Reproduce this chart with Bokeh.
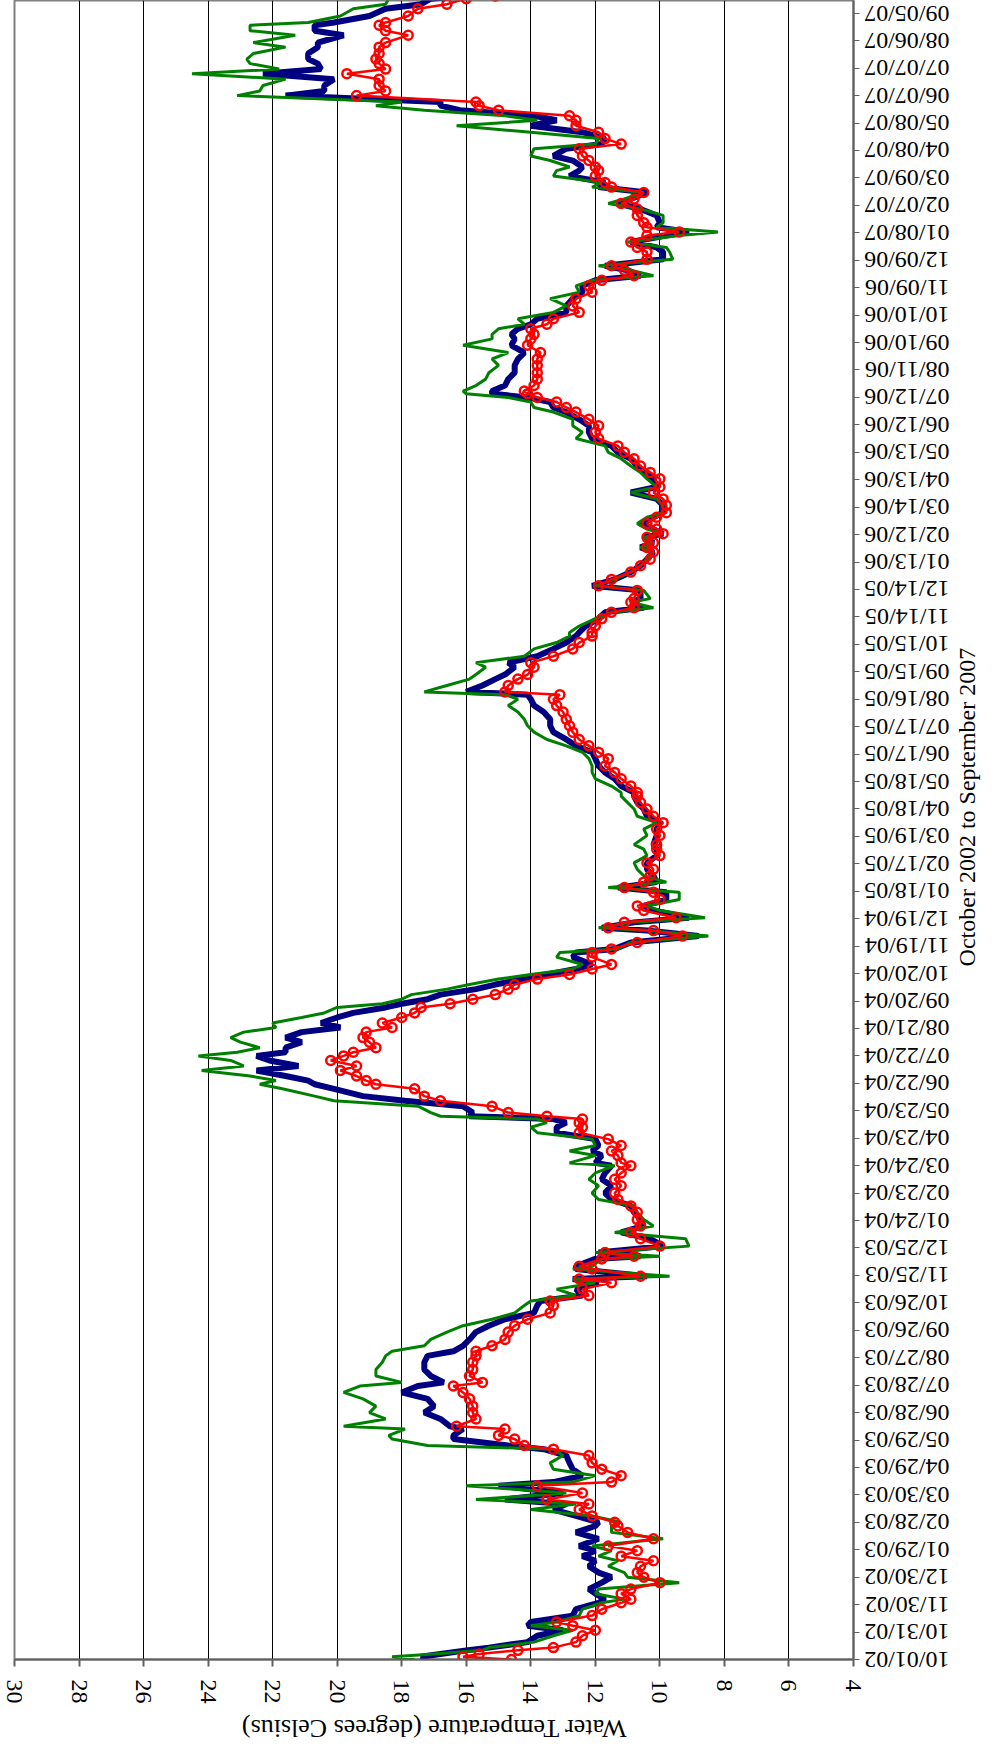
import datetime as dt
from math import pi
from bokeh.plotting import figure
from bokeh.layouts import column, row
from bokeh.models import Range1d, FixedTicker, ColumnDataSource
from bokeh.core.properties import value
from bokeh.embed import file_html
from bokeh.resources import INLINE

# ---------------- data ----------------
start_date = "10/01/02"
date_tick_labels = [
    "10/01/02", "10/31/02", "11/30/02", "12/30/02", "01/29/03", "02/28/03", "03/30/03", "04/29/03",
    "05/29/03", "06/28/03", "07/28/03", "08/27/03", "09/26/03", "10/26/03", "11/25/03", "12/25/03",
    "01/24/04", "02/23/04", "03/24/04", "04/23/04", "05/23/04", "06/22/04", "07/22/04", "08/21/04",
    "09/20/04", "10/20/04", "11/19/04", "12/19/04", "01/18/05", "02/17/05", "03/19/05", "04/18/05",
    "05/18/05", "06/17/05", "07/17/05", "08/16/05", "09/15/05", "10/15/05", "11/14/05", "12/14/05",
    "01/13/06", "02/12/06", "03/14/06", "04/13/06", "05/13/06", "06/12/06", "07/12/06", "08/11/06",
    "09/10/06", "10/10/06", "11/09/06", "12/09/06", "01/08/07", "02/07/07", "03/09/07", "04/08/07",
    "05/08/07", "06/07/07", "07/07/07", "08/06/07", "09/05/07",
]
temp_ticks = [4, 6, 8, 10, 12, 14, 16, 18, 20, 22, 24, 26, 28, 30]
x_title = "Water Temperature (degrees Celsius)"
y_title = "October 2002 to September 2007"

# days since 10/01/02
days = [
    0, 3, 6, 10, 13, 19, 26, 32, 37, 41, 48, 55, 62, 66, 72, 77, 84,
    90, 95, 102, 108, 113, 119, 124, 132, 139, 146, 150, 157, 164, 170, 175, 182, 190, 194, 201, 208, 215, 223, 230, 234,
    241, 245, 252, 255, 263, 270, 277, 285, 292, 299, 303, 310, 317, 325, 332, 337, 343, 350, 358, 365, 372, 379, 387, 392, 398, 405, 412,
    416, 419, 427, 430, 438, 441, 445, 452, 460, 467, 474, 481, 489, 496, 503, 510, 518, 525, 532, 540, 543, 551, 556, 562, 569, 576, 582, 587, 591,
    594, 598, 605, 611, 616, 624, 629, 633, 638, 644, 649, 655, 660, 664, 669, 675, 680, 686, 691, 696, 702, 707, 713, 717, 722, 727, 733, 738, 744, 749, 755, 760, 768, 773,
    777, 784, 791, 797, 800, 806, 811, 819, 824, 831, 839, 844, 850, 857, 864, 871, 879, 886, 891, 901, 908, 915, 922, 930, 937, 944, 948,
    955, 963, 970, 977, 985, 992, 999, 1006, 1014, 1021, 1028, 1036, 1043, 1050, 1055, 1058, 1065, 1072, 1077, 1085, 1090, 1097, 1105, 1112, 1119, 1123,
    1130, 1138, 1145, 1150, 1156, 1160, 1169, 1174, 1181, 1189, 1196, 1203, 1211, 1216, 1221, 1227, 1231, 1236, 1242, 1249, 1254, 1262, 1269, 1276, 1282, 1291, 1298,
    1305, 1313, 1320, 1327, 1335, 1342, 1349, 1356, 1364, 1369, 1375, 1380, 1384, 1387, 1393, 1400, 1407, 1415, 1422, 1429, 1437, 1444, 1449, 1455, 1460, 1466, 1473,
    1480, 1488, 1495, 1502, 1508, 1513, 1519, 1524, 1531, 1539, 1544, 1550, 1557, 1561, 1566, 1571, 1579, 1586, 1592, 1597, 1604, 1610, 1615, 1622, 1628, 1632, 1639, 1644, 1652,
    1657, 1663, 1670, 1677, 1683, 1688, 1694, 1699, 1703, 1710, 1715, 1721, 1728, 1734, 1739, 1745, 1750, 1756, 1763, 1768, 1776, 1781, 1787, 1790, 1797, 1805, 1810, 1816, 1819,
]

green_temp = [
    17.6, 18.3, 17.0, 15.5, 15.3, 13.9, 13.3, 12.7, 14.0, 13.2, 12.5, 12.4, 11.8, 11.1, 12.0, 11.9, 9.4,
    11.0, 11.1, 11.6, 11.3, 11.9, 11.5, 12.1, 9.9, 11.5, 11.5, 11.2, 12.1, 14.0, 12.6, 15.7, 12.9, 16.0, 12.7, 12.0, 13.3, 13.4, 13.0, 13.3, 17.2,
    18.3, 18.4, 17.9, 19.8, 18.5, 19.0, 18.8, 19.2, 19.8, 19.3, 18.0, 18.8, 18.8, 18.6, 18.5, 18.3, 17.3, 17.1, 16.6, 16.1, 15.2, 14.5, 14.2, 14.0, 12.6, 13.2, 12.0,
    12.7, 9.7, 12.7, 12.1, 11.8, 10.0, 12.0, 9.1, 9.2, 11.4, 10.2, 10.5, 10.7, 10.8, 11.9, 12.1, 11.9, 12.2, 12.0, 11.4, 12.8, 12.0, 12.8, 12.0, 12.1, 13.8, 14.0, 13.5, 13.8,
    16.8, 17.1, 17.5, 20.1, 20.7, 21.7, 22.4, 21.9, 22.7, 24.2, 22.9, 23.3, 24.3, 23.1, 22.4, 23.0, 23.3, 22.9, 21.9, 22.0, 21.1, 20.4, 20.0, 18.6, 18.0, 17.7, 16.6, 15.9, 15.0, 14.0, 12.7, 12.4, 13.2, 13.1,
    11.3, 10.9, 8.5, 10.4, 11.9, 10.9, 8.6, 10.0, 10.4, 9.4, 9.4, 11.6, 9.8, 10.5, 10.7, 10.8, 10.4, 10.5, 10.8, 10.4, 10.5, 10.1, 10.7, 10.8, 11.0, 11.2, 11.2,
    11.5, 12.0, 12.1, 12.1, 12.2, 12.4, 12.9, 13.5, 13.9, 14.1, 14.2, 14.4, 14.7, 14.4, 14.8, 17.3, 16.6, 15.9, 15.7, 15.4, 15.7, 14.2, 13.9, 13.2, 12.8, 12.8,
    12.5, 12.0, 11.5, 10.2, 10.9, 10.3, 10.5, 12.0, 11.4, 10.9, 10.6, 10.4, 10.2, 10.6, 10.2, 10.5, 9.9, 10.4, 10.7, 10.4, 9.9, 9.9, 10.1, 10.9, 10.1, 10.4, 10.6,
    10.9, 11.2, 11.6, 11.7, 12.6, 12.4, 12.7, 12.7, 13.3, 13.9, 14.0, 14.7, 16.0, 16.1, 15.7, 15.4, 15.3, 15.0, 15.2, 14.7, 16.1, 15.2, 15.2, 15.0, 14.2, 14.4, 13.3,
    12.9, 13.4, 12.5, 12.6, 12.1, 10.2, 10.9, 11.9, 9.6, 9.7, 9.8, 11.0, 9.4, 8.2, 10.1, 9.9, 9.9, 10.6, 11.6, 11.1, 10.5, 12.1, 11.8, 13.3, 13.2, 12.8, 13.4, 14.0, 13.9,
    12.0, 11.9, 14.0, 16.3, 13.8, 14.8, 17.3, 18.8, 18.0, 23.1, 22.4, 22.3, 21.6, 24.5, 21.8, 22.7, 22.8, 22.6, 21.6, 22.6, 21.3, 22.7, 22.7, 20.9, 19.9, 19.5, 18.5, 18.4, 16.6,
]

navy_temp = [
    17.2, 17.4, 16.8, 16.0, 15.3, 14.1, 13.8, 13.0, 14.1, 14.0, 12.7, 12.6, 11.9, 11.7, 12.0, 12.2, 11.8,
    11.5, 11.9, 12.2, 12.0, 12.4, 12.0, 12.5, 11.9, 12.6, 12.0, 11.9, 12.6, 13.3, 12.9, 14.8, 13.0, 15.0, 13.3, 12.4, 12.7, 12.8, 12.9, 13.6, 14.7,
    16.4, 16.4, 16.1, 16.5, 16.8, 17.3, 17.0, 17.2, 18.0, 17.5, 16.7, 17.1, 17.3, 17.3, 17.2, 16.4, 16.1, 15.9, 15.7, 15.3, 14.8, 13.9, 13.8, 13.7, 12.4, 12.6, 11.9,
    12.7, 10.4, 12.6, 12.6, 12.0, 10.6, 11.9, 9.9, 10.3, 11.2, 10.5, 10.6, 10.8, 10.9, 11.5, 11.7, 11.5, 11.8, 11.7, 11.5, 12.0, 11.8, 12.1, 11.9, 12.0, 13.2, 13.2, 12.9, 13.3,
    15.9, 15.8, 16.1, 17.9, 19.2, 20.1, 20.7, 20.9, 21.6, 22.5, 21.2, 22.1, 22.5, 21.6, 21.6, 21.1, 21.6, 21.1, 19.9, 20.5, 20.0, 19.5, 18.5, 18.0, 17.2, 16.8, 15.7, 15.1, 14.2, 13.5, 12.6, 12.1, 12.7, 12.6,
    11.4, 10.9, 8.8, 10.4, 11.8, 10.8, 9.1, 10.2, 10.5, 9.8, 9.8, 11.3, 10.1, 10.2, 10.4, 10.4, 10.1, 10.1, 10.2, 10.1, 10.1, 10.0, 10.4, 10.5, 10.7, 10.8, 10.8,
    11.2, 11.4, 11.7, 11.9, 12.0, 12.1, 12.6, 12.9, 13.3, 13.4, 13.4, 13.6, 13.9, 14.0, 14.1, 16.0, 15.5, 15.1, 14.8, 14.5, 14.7, 13.8, 13.3, 12.9, 12.6, 12.5,
    12.3, 11.9, 11.7, 10.5, 10.9, 10.6, 10.6, 12.1, 11.4, 10.9, 10.6, 10.4, 10.2, 10.6, 10.2, 10.5, 9.9, 10.2, 10.6, 10.2, 9.9, 9.9, 10.1, 10.9, 10.1, 10.2, 10.5,
    10.7, 10.9, 11.3, 11.5, 12.1, 12.2, 12.2, 12.5, 12.9, 13.3, 13.4, 14.1, 15.2, 15.2, 14.8, 14.7, 14.5, 14.5, 14.4, 14.2, 14.6, 14.5, 14.6, 14.4, 14.0, 13.8, 12.9,
    12.9, 12.7, 12.4, 12.4, 12.0, 10.6, 11.0, 11.7, 9.9, 9.9, 10.1, 10.9, 9.8, 9.1, 10.1, 10.0, 10.1, 10.6, 11.3, 10.9, 10.4, 11.9, 11.7, 12.8, 12.5, 12.4, 12.7, 13.3, 12.9,
    11.8, 11.7, 12.4, 14.0, 13.2, 13.9, 16.2, 16.8, 16.8, 21.6, 20.4, 20.4, 20.1, 22.3, 20.5, 20.6, 20.9, 20.9, 20.6, 20.6, 19.8, 20.7, 20.7, 20.1, 19.0, 18.5, 17.4, 17.1, 16.1,
]

red_temp = [
    14.6, 16.1, 15.6, 14.4, 13.3, 12.6, 12.4, 12.0, 12.7, 13.2, 12.1, 11.8, 11.2, 10.9, 11.2, 10.9, 10.0,
    10.5, 10.7, 10.6, 10.2, 11.2, 10.7, 11.6, 10.2, 11.0, 11.3, 11.4, 12.1, 12.5, 12.2, 13.5, 12.4, 13.8, 11.5, 11.2, 11.8, 12.1, 12.2, 13.3, 14.2,
    14.5, 15.0, 14.8, 16.3, 15.7, 15.8, 15.8, 15.9, 16.1, 16.4, 15.5, 15.9, 15.8, 15.8, 15.7, 15.7, 15.2, 14.8, 14.7, 14.5, 14.1, 13.4, 13.3, 13.4, 12.2, 12.4, 11.5,
    12.5, 10.6, 12.1, 12.5, 11.8, 10.8, 11.7, 10.0, 10.6, 10.9, 10.6, 10.7, 10.7, 10.9, 11.3, 11.4, 11.2, 11.4, 11.2, 10.9, 11.2, 11.3, 11.5, 11.2, 11.6, 12.5, 12.4, 12.5, 12.4,
    13.5, 14.7, 15.2, 16.8, 17.3, 17.6, 18.8, 19.1, 19.4, 19.9, 19.4, 20.2, 19.8, 19.5, 18.8, 19.0, 19.2, 19.1, 18.3, 18.6, 18.0, 17.6, 17.4, 16.5, 15.8, 15.1, 14.7, 14.5, 13.8, 12.8, 12.1, 11.5, 12.1, 12.1,
    11.5, 10.7, 9.3, 10.2, 11.6, 11.1, 9.5, 10.5, 10.7, 10.0, 10.2, 11.1, 10.5, 10.3, 10.2, 10.4, 10.0, 10.1, 10.1, 10.0, 10.1, 9.9, 10.2, 10.4, 10.6, 10.7, 10.7,
    10.9, 11.2, 11.4, 11.7, 11.6, 11.9, 12.2, 12.5, 12.7, 12.8, 12.9, 13.0, 13.2, 13.3, 13.1, 14.8, 14.7, 14.4, 14.1, 13.9, 14.0, 13.3, 12.7, 12.5, 12.1, 12.1,
    12.0, 11.8, 11.5, 10.8, 10.9, 10.8, 10.7, 11.9, 11.5, 10.9, 10.6, 10.3, 10.2, 10.4, 10.2, 10.4, 9.9, 10.1, 10.4, 10.1, 9.8, 9.8, 9.9, 10.2, 10.0, 10.0, 10.3,
    10.6, 10.8, 11.1, 11.3, 11.9, 12.0, 11.9, 12.2, 12.6, 12.9, 13.2, 13.8, 14.1, 14.2, 13.9, 13.8, 13.8, 13.8, 13.8, 13.7, 14.1, 14.0, 13.9, 14.0, 13.5, 13.3, 12.5,
    12.7, 12.6, 12.1, 12.2, 11.8, 10.8, 11.1, 11.5, 10.4, 10.4, 10.7, 10.9, 10.4, 9.4, 10.4, 10.5, 10.7, 10.7, 11.2, 10.8, 10.5, 11.5, 11.7, 12.0, 11.9, 12.0, 12.2, 12.4, 12.5,
    11.2, 11.7, 11.9, 12.6, 12.6, 12.8, 15.0, 15.6, 15.7, 19.4, 18.5, 18.7, 18.7, 19.7, 18.5, 18.7, 18.8, 18.7, 18.7, 18.5, 17.8, 18.5, 18.7, 18.5, 17.8, 17.5, 16.6, 16.0, 15.1,
]

assert len(days) == len(green_temp) == len(navy_temp) == len(red_temp), (
    len(days), len(green_temp), len(navy_temp), len(red_temp))

# ---------------- derived ----------------
fmt = "%m/%d/%y"
d0 = dt.datetime.strptime(start_date, fmt)
tick_days = [(dt.datetime.strptime(s, fmt) - d0).days for s in date_tick_labels]

src = ColumnDataSource(dict(day=days, green=green_temp, navy=navy_temp, red=red_temp))

SERIF = "Liberation Serif"

# layout sizes (px)
LEFT, FRAME_W, RIGHT = 14, 839, 98
FRAME_H, BOTTOM = 1659, 44
MAIN_W, MAIN_H = LEFT + FRAME_W + RIGHT, FRAME_H + BOTTOM
TITLE_R_W = 30
TITLE_B_H = 40

p = figure(
    frame_width=FRAME_W, frame_height=FRAME_H,
    x_range=Range1d(30, 4), y_range=Range1d(0, 1814),
    y_axis_location="right",
    output_backend="svg", toolbar_location=None,
    min_border_left=LEFT, min_border_top=0, min_border_right=RIGHT, min_border_bottom=BOTTOM,
    background_fill_color="white", border_fill_color="white",
)
p.outline_line_color = "#808080"
p.outline_line_width = 2

# grid: vertical lines at each temperature tick
p.xgrid.ticker = FixedTicker(ticks=temp_ticks)
p.xgrid.grid_line_color = "black"
p.xgrid.grid_line_width = 1
p.ygrid.grid_line_color = None

xa = p.xaxis[0]
xa.ticker = FixedTicker(ticks=temp_ticks)
xa.major_label_orientation = -pi / 2
xa.major_label_text_font = SERIF
xa.major_label_text_font_size = "24px"
xa.major_label_text_color = "black"
xa.major_label_standoff = 13
xa.major_tick_out = 7
xa.major_tick_in = 0
xa.minor_tick_line_color = None
xa.axis_line_color = "#606060"
xa.axis_line_width = 2
xa.major_tick_line_color = "#606060"
xa.major_tick_line_width = 2

ya = p.yaxis[0]
ya.ticker = FixedTicker(ticks=tick_days)
ya.major_label_overrides = {d: s for d, s in zip(tick_days, date_tick_labels)}
ya.major_label_orientation = pi
ya.major_label_text_font = SERIF
ya.major_label_text_font_size = "24px"
ya.major_label_text_color = "black"
ya.major_label_standoff = 90
ya.major_tick_out = 6
ya.major_tick_in = 0
ya.minor_tick_line_color = None
ya.axis_line_color = "#606060"
ya.axis_line_width = 2
ya.major_tick_line_color = "#606060"
ya.major_tick_line_width = 1
# blank axis label with a negative standoff keeps the reserved space small
ya.axis_label = " "
ya.axis_label_text_font_size = "24px"
ya.axis_label_standoff = -140

p.line("navy", "day", source=src, line_color="#000080", line_width=6)
p.line("green", "day", source=src, line_color="#008000", line_width=3)
p.line("red", "day", source=src, line_color="#FF0000", line_width=2.5)
p.scatter("red", "day", source=src, marker="circle", size=9, line_color="#FF0000",
          line_width=2.5, fill_color=None)


def title_panel(w, h):
    f = figure(width=w, height=h, x_range=Range1d(0, w), y_range=Range1d(0, h),
               output_backend="svg", toolbar_location=None,
               min_border=0, background_fill_color="white", border_fill_color="white")
    f.axis.visible = False
    f.grid.visible = False
    f.outline_line_color = None
    return f


# right-hand title, reading bottom to top, centred on the plot frame
tr = title_panel(TITLE_R_W, MAIN_H)
tr.text(x=[TITLE_R_W / 2], y=[BOTTOM + FRAME_H / 2], text=[y_title], angle=pi / 2,
        text_font=value(SERIF), text_font_size=value("24px"), text_color="black",
        text_align="center", text_baseline="middle")

# bottom title, upside down, centred on the plot frame
tb = title_panel(MAIN_W + TITLE_R_W, TITLE_B_H)
tb.text(x=[LEFT + FRAME_W / 2], y=[18], text=[x_title], angle=pi,
        text_font=value(SERIF), text_font_size=value("26px"), text_color="black",
        text_align="center", text_baseline="middle")

layout = column(row(p, tr, spacing=0), tb, spacing=0)

open("out.html", "w").write(file_html(layout, INLINE))
